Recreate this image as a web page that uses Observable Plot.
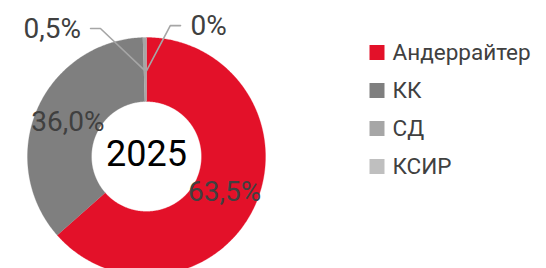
<!DOCTYPE html>
<html>
<head>
<meta charset="utf-8">
<script src="https://cdn.jsdelivr.net/npm/d3@7"></script>
<script src="https://cdn.jsdelivr.net/npm/@observablehq/plot@0.6"></script>
<style>
  html, body { margin: 0; padding: 0; background: #fff; overflow: hidden; }
  #wrap { position: relative; width: 546px; height: 268px; }
  #pie, #legend { position: absolute; top: 0; }
  #pie { left: 0; }
  #legend { left: 366px; }
</style>
</head>
<body>
<div id="wrap"><div id="pie"></div><div id="legend"></div></div>
<script>
// ---- data ----
const categories = ["Андеррайтер", "КК", "СД", "КСИР"];
const shares = [63.5, 36.0, 0.5, 0];
const shareLabels = ["63,5%", "36,0%", "0,5%", "0%"];
const colors = ["#e31129", "#7f7f7f", "#a6a6a6", "#bfbfbf"];
const centerLabel = "2025";

// ---- layout ----
const cx = 146, cy = 156, R = 119, innerFrac = 55 / 119;
const labelFrac = 0.72;
// callouts for thin slices (unit coordinates relative to the ring)
const callouts = {
  "СД":   { elbow: [-0.387, 1.076], end: [-0.47, 1.076], text: [-0.55, 1.07], anchor: "end" },
  "КСИР": { elbow: [0.2, 1.10], end: [0.286, 1.10], text: [0.37, 1.10], anchor: "start" }
};

const total = d3.sum(shares);
let acc = 0;
const slices = categories.map((c, i) => {
  const a0 = acc / total * 2 * Math.PI;
  acc += shares[i];
  const a1 = acc / total * 2 * Math.PI;
  return { cat: c, value: shares[i], label: shareLabels[i], a0, a1, mid: (a0 + a1) / 2 };
});

// polygon outline of every ring slice
const ringPts = [];
for (const s of slices) {
  if (s.a1 - s.a0 <= 0) continue;
  const n = Math.max(2, Math.ceil((s.a1 - s.a0) / 0.01));
  for (let k = 0; k <= n; k++) {
    const a = s.a0 + (s.a1 - s.a0) * k / n;
    ringPts.push({ cat: s.cat, x: Math.sin(a), y: Math.cos(a) });
  }
  for (let k = n; k >= 0; k--) {
    const a = s.a0 + (s.a1 - s.a0) * k / n;
    ringPts.push({ cat: s.cat, x: innerFrac * Math.sin(a), y: innerFrac * Math.cos(a) });
  }
}

const inside = slices.filter(s => !callouts[s.cat]);
const outside = slices.filter(s => callouts[s.cat]);
const leader = [];
for (const s of outside) {
  const c = callouts[s.cat];
  leader.push({ cat: s.cat, x: labelFrac * Math.sin(s.mid), y: labelFrac * Math.cos(s.mid) });
  leader.push({ cat: s.cat, x: c.elbow[0], y: c.elbow[1] });
  leader.push({ cat: s.cat, x: c.end[0], y: c.end[1] });
}

const font = "Roboto, 'Noto Sans', sans-serif";
const pie = Plot.plot({
  width: 546, height: 268, margin: 0,
  style: { fontFamily: font, background: "transparent", overflow: "visible" },
  x: { domain: [-1, 1], range: [cx - R, cx + R], axis: null },
  y: { domain: [-1, 1], range: [cy + R, cy - R], axis: null },
  color: { domain: categories, range: colors },
  marks: [
    Plot.line(ringPts, { x: "x", y: "y", z: "cat", fill: "cat", stroke: "cat", strokeWidth: 0.3 }),
    Plot.line(leader, { x: "x", y: "y", z: "cat", stroke: "#a6a6a6", strokeWidth: 1.6 }),
    Plot.text(inside, {
      x: s => labelFrac * Math.sin(s.mid), y: s => labelFrac * Math.cos(s.mid),
      text: "label", fontSize: 28, fill: "#404040"
    }),
    Plot.text(outside.filter(s => callouts[s.cat].anchor === "end"), {
      x: s => callouts[s.cat].text[0], y: s => callouts[s.cat].text[1],
      text: "label", fontSize: 28, fill: "#404040", textAnchor: "end"
    }),
    Plot.text(outside.filter(s => callouts[s.cat].anchor === "start"), {
      x: s => callouts[s.cat].text[0], y: s => callouts[s.cat].text[1],
      text: "label", fontSize: 28, fill: "#404040", textAnchor: "start"
    }),
    Plot.text([centerLabel], { x: () => 0, y: () => 0, text: d => d, fontSize: 36, fill: "#000", dy: -2 })
  ]
});
document.getElementById("pie").appendChild(pie);

const legend = Plot.plot({
  width: 180, height: 268, margin: 0,
  style: { fontFamily: font, background: "transparent" },
  y: { type: "point", domain: categories, range: [51, 167], padding: 0, axis: null },
  color: { domain: categories, range: colors },
  marks: [
    Plot.dot(categories, { y: d => d, fill: d => d, symbol: "square", r: 15 / Math.sqrt(Math.PI), stroke: null, frameAnchor: "left", dx: 10.5 }),
    Plot.text(categories, { y: d => d, text: d => d, frameAnchor: "left", dx: 26, textAnchor: "start", fontSize: 22.5, fill: "#404040" })
  ]
});
document.getElementById("legend").appendChild(legend);
</script>
</body>
</html>
